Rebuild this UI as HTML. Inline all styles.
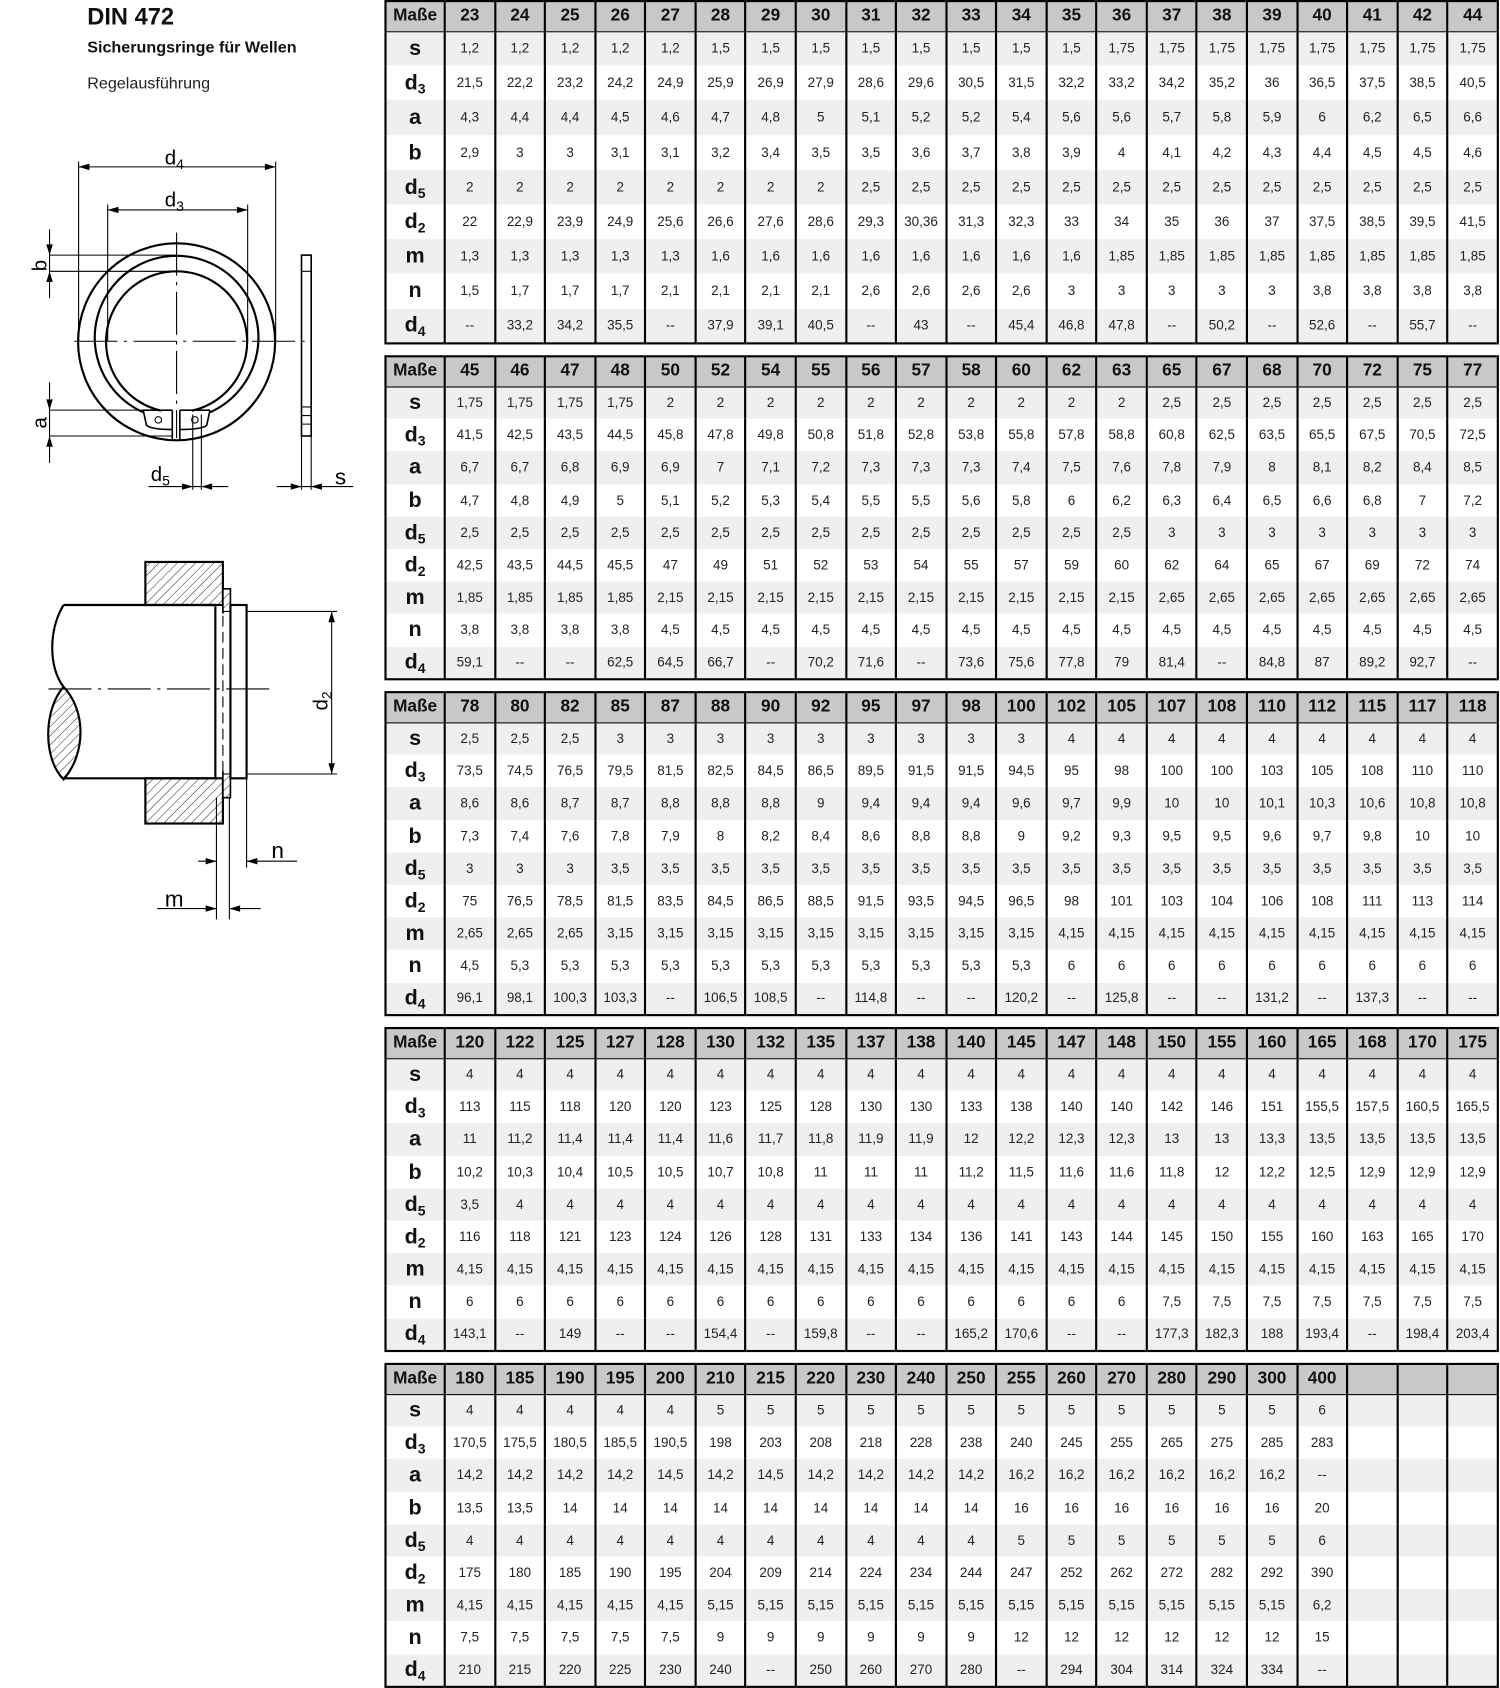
<!DOCTYPE html>
<html><head><meta charset="utf-8"><style>
html,body{margin:0;padding:0;background:#fff;}
body{width:1500px;height:1688px;overflow:hidden;position:relative;}
#w{position:absolute;left:0;top:0;width:1393px;height:1568px;transform:scale(1.0768,1.0765);transform-origin:0 0;font-family:"Liberation Sans",sans-serif;}
table{position:absolute;left:357px;width:1035px;height:300px;border-collapse:collapse;table-layout:fixed;border:2px solid #000;}
tr{height:30.2px;}
table.t1{height:318px;}
table.t1 tr{height:32.2px;}
tr.h, table.t1 tr.h{height:28px;}
td{border-left:2px solid #000;border-right:2px solid #000;text-align:center;font-size:12.5px;line-height:14px;color:#222;padding:0;white-space:nowrap;overflow:hidden;}
td:first-child{width:53px;font-weight:bold;font-size:20px;color:#111;}
td:first-child sub{font-size:13px;vertical-align:-4px;line-height:0;}
tr.h td{background:#c8c8c8;font-weight:bold;font-size:16px;border-bottom:1px solid #000;color:#111;}
tr.h td:first-child{font-size:16px;}
tr.g td{background:#efefef;}
</style></head><body><div id="w">
<svg width="357" height="1568" style="position:absolute;left:0;top:0" font-family="Liberation Sans,sans-serif">
<text x="81" y="23" font-size="22" font-weight="bold" fill="#111">DIN 472</text>
<text x="81" y="49" font-size="15" font-weight="bold" fill="#111">Sicherungsringe für Wellen</text>
<text x="81" y="82" font-size="15" fill="#222">Regelausführung</text>
<g stroke="#000" fill="none" stroke-width="2">
<circle cx="164" cy="317.5" r="91.5"/>
<path d="M133,383 A76 76 0 1 1 195,383"/>
<path d="M150,381.5 A65.5 65.5 0 1 1 178,381.5"/>
<path d="M133,381 H160 M133,381 L136,395 Q140,399 160,399 M160,381 V408" stroke-width="1.5"/>
<path d="M195,381 H167 M195,381 L192,395 Q188,399 167,399 M167,381 V408" stroke-width="1.5"/>
</g>
<g stroke="#000" fill="none" stroke-width="1">
<circle cx="147" cy="390" r="3"/><circle cx="181" cy="390" r="3"/>
<path d="M69,317 H286" stroke-dasharray="40,6,3,6"/>
<path d="M164,216 V407" stroke-dasharray="40,6,3,6"/>
<path d="M73,150 V317 M256,150 V317 M73,155 H256 M100,190 V317 M230,190 V317 M100,195 H230"/>
<path d="M46,237 H164 M46,252 H164 M46,213 V277 M46,381 H140 M46,405 H160 M46,355 V430"/>
<path d="M179,385 V455 M187,385 V455 M138,452 H212 M280,405 V455 M289,405 V455 M257,452 H328"/>
<rect x="280" y="237" width="9" height="168" stroke-width="1.5"/>
<path d="M280,252 H289 M280,378 H289 M280,386 H289 M280,394 H289"/>
</g>
<g fill="#000">
<path d="M73,155 l10,-3 v6z M256,155 l-10,-3 v6z M100,195 l10,-3 v6z M230,195 l-10,-3 v6z"/>
<path d="M46,237 l-3,-10 h6z M46,252 l-3,10 h6z M46,381 l-3,-10 h6z M46,405 l-3,10 h6z"/>
<path d="M179,452 l-10,-3 v6z M187,452 l10,-3 v6z M280,452 l-10,-3 v6z M289,452 l10,-3 v6z"/>
</g>
<text x="153" y="153" font-size="19">d<tspan font-size="13" dy="4">4</tspan></text>
<text x="153" y="192" font-size="19">d<tspan font-size="13" dy="4">3</tspan></text>
<text x="140" y="447" font-size="19">d<tspan font-size="13" dy="4">5</tspan></text>
<text x="311" y="450" font-size="21">s</text>
<text transform="translate(43,252) rotate(-90)" font-size="19">b</text>
<text transform="translate(43,398) rotate(-90)" font-size="19">a</text>
<defs><pattern id="h" width="6" height="6" patternUnits="userSpaceOnUse" patternTransform="rotate(45)"><line x1="0" y1="0" x2="0" y2="6" stroke="#000" stroke-width="0.8"/></pattern></defs>
<g stroke="#000" stroke-width="2" fill="none">
<rect x="135" y="522" width="72" height="40" fill="url(#h)"/>
<rect x="135" y="723" width="72" height="42" fill="url(#h)"/>
<path d="M59,562 H200 M59,723 H200"/>
<path d="M59,562 C45,585 45,620 59,638"/>
<path d="M59,638 C40,660 40,705 59,724 C80,700 80,660 59,638 Z" fill="url(#h)"/>
<rect x="207" y="547" width="7" height="194" fill="#fff" stroke-width="1.5"/>
<rect x="207" y="547" width="7" height="21" fill="url(#h)" stroke-width="1"/>
<rect x="207" y="719" width="7" height="22" fill="url(#h)" stroke-width="1"/>
<path d="M200,562 V723"/>
<rect x="214" y="562" width="15" height="161"/>
</g>
<g stroke="#000" stroke-width="1" fill="none">
<path d="M207,570 V716" stroke="#fff" stroke-width="2"/>
<path d="M207,572 V716" stroke-dasharray="10,5"/>
<path d="M45,640 H250" stroke-dasharray="40,6,3,6"/>
<path d="M229,568 H313 M229,719 H313 M308,568 V719"/>
<path d="M201,741 V854 M213,741 V854 M229,723 V806 M184,800 H201 M229,800 H276 M146,844 H201 M213,844 H242"/>
</g>
<g fill="#000"><path d="M308,568 l-3,10 h6z M308,719 l-3,-10 h6z M201,800 l-10,-3 v6z M229,800 l10,-3 v6z M201,844 l-10,-3 v6z M213,844 l10,-3 v6z"/></g>
<text transform="translate(304,660) rotate(-90)" font-size="19">d<tspan font-size="13" dy="4">2</tspan></text>
<text x="252" y="797" font-size="21">n</text>
<text x="153" y="842" font-size="21">m</text>
</svg>

<table class="t1" style="top:0">
<tr class="h"><td>Maße</td><td>23</td><td>24</td><td>25</td><td>26</td><td>27</td><td>28</td><td>29</td><td>30</td><td>31</td><td>32</td><td>33</td><td>34</td><td>35</td><td>36</td><td>37</td><td>38</td><td>39</td><td>40</td><td>41</td><td>42</td><td>44</td></tr>
<tr class="g"><td>s</td><td>1,2</td><td>1,2</td><td>1,2</td><td>1,2</td><td>1,2</td><td>1,5</td><td>1,5</td><td>1,5</td><td>1,5</td><td>1,5</td><td>1,5</td><td>1,5</td><td>1,5</td><td>1,75</td><td>1,75</td><td>1,75</td><td>1,75</td><td>1,75</td><td>1,75</td><td>1,75</td><td>1,75</td></tr>
<tr><td>d<sub>3</sub></td><td>21,5</td><td>22,2</td><td>23,2</td><td>24,2</td><td>24,9</td><td>25,9</td><td>26,9</td><td>27,9</td><td>28,6</td><td>29,6</td><td>30,5</td><td>31,5</td><td>32,2</td><td>33,2</td><td>34,2</td><td>35,2</td><td>36</td><td>36,5</td><td>37,5</td><td>38,5</td><td>40,5</td></tr>
<tr class="g"><td>a</td><td>4,3</td><td>4,4</td><td>4,4</td><td>4,5</td><td>4,6</td><td>4,7</td><td>4,8</td><td>5</td><td>5,1</td><td>5,2</td><td>5,2</td><td>5,4</td><td>5,6</td><td>5,6</td><td>5,7</td><td>5,8</td><td>5,9</td><td>6</td><td>6,2</td><td>6,5</td><td>6,6</td></tr>
<tr><td>b</td><td>2,9</td><td>3</td><td>3</td><td>3,1</td><td>3,1</td><td>3,2</td><td>3,4</td><td>3,5</td><td>3,5</td><td>3,6</td><td>3,7</td><td>3,8</td><td>3,9</td><td>4</td><td>4,1</td><td>4,2</td><td>4,3</td><td>4,4</td><td>4,5</td><td>4,5</td><td>4,6</td></tr>
<tr class="g"><td>d<sub>5</sub></td><td>2</td><td>2</td><td>2</td><td>2</td><td>2</td><td>2</td><td>2</td><td>2</td><td>2,5</td><td>2,5</td><td>2,5</td><td>2,5</td><td>2,5</td><td>2,5</td><td>2,5</td><td>2,5</td><td>2,5</td><td>2,5</td><td>2,5</td><td>2,5</td><td>2,5</td></tr>
<tr><td>d<sub>2</sub></td><td>22</td><td>22,9</td><td>23,9</td><td>24,9</td><td>25,6</td><td>26,6</td><td>27,6</td><td>28,6</td><td>29,3</td><td>30,36</td><td>31,3</td><td>32,3</td><td>33</td><td>34</td><td>35</td><td>36</td><td>37</td><td>37,5</td><td>38,5</td><td>39,5</td><td>41,5</td></tr>
<tr class="g"><td>m</td><td>1,3</td><td>1,3</td><td>1,3</td><td>1,3</td><td>1,3</td><td>1,6</td><td>1,6</td><td>1,6</td><td>1,6</td><td>1,6</td><td>1,6</td><td>1,6</td><td>1,6</td><td>1,85</td><td>1,85</td><td>1,85</td><td>1,85</td><td>1,85</td><td>1,85</td><td>1,85</td><td>1,85</td></tr>
<tr><td>n</td><td>1,5</td><td>1,7</td><td>1,7</td><td>1,7</td><td>2,1</td><td>2,1</td><td>2,1</td><td>2,1</td><td>2,6</td><td>2,6</td><td>2,6</td><td>2,6</td><td>3</td><td>3</td><td>3</td><td>3</td><td>3</td><td>3,8</td><td>3,8</td><td>3,8</td><td>3,8</td></tr>
<tr class="g"><td>d<sub>4</sub></td><td>--</td><td>33,2</td><td>34,2</td><td>35,5</td><td>--</td><td>37,9</td><td>39,1</td><td>40,5</td><td>--</td><td>43</td><td>--</td><td>45,4</td><td>46,8</td><td>47,8</td><td>--</td><td>50,2</td><td>--</td><td>52,6</td><td>--</td><td>55,7</td><td>--</td></tr>
</table>

<table style="top:330px">
<tr class="h"><td>Maße</td><td>45</td><td>46</td><td>47</td><td>48</td><td>50</td><td>52</td><td>54</td><td>55</td><td>56</td><td>57</td><td>58</td><td>60</td><td>62</td><td>63</td><td>65</td><td>67</td><td>68</td><td>70</td><td>72</td><td>75</td><td>77</td></tr>
<tr class="g"><td>s</td><td>1,75</td><td>1,75</td><td>1,75</td><td>1,75</td><td>2</td><td>2</td><td>2</td><td>2</td><td>2</td><td>2</td><td>2</td><td>2</td><td>2</td><td>2</td><td>2,5</td><td>2,5</td><td>2,5</td><td>2,5</td><td>2,5</td><td>2,5</td><td>2,5</td></tr>
<tr><td>d<sub>3</sub></td><td>41,5</td><td>42,5</td><td>43,5</td><td>44,5</td><td>45,8</td><td>47,8</td><td>49,8</td><td>50,8</td><td>51,8</td><td>52,8</td><td>53,8</td><td>55,8</td><td>57,8</td><td>58,8</td><td>60,8</td><td>62,5</td><td>63,5</td><td>65,5</td><td>67,5</td><td>70,5</td><td>72,5</td></tr>
<tr class="g"><td>a</td><td>6,7</td><td>6,7</td><td>6,8</td><td>6,9</td><td>6,9</td><td>7</td><td>7,1</td><td>7,2</td><td>7,3</td><td>7,3</td><td>7,3</td><td>7,4</td><td>7,5</td><td>7,6</td><td>7,8</td><td>7,9</td><td>8</td><td>8,1</td><td>8,2</td><td>8,4</td><td>8,5</td></tr>
<tr><td>b</td><td>4,7</td><td>4,8</td><td>4,9</td><td>5</td><td>5,1</td><td>5,2</td><td>5,3</td><td>5,4</td><td>5,5</td><td>5,5</td><td>5,6</td><td>5,8</td><td>6</td><td>6,2</td><td>6,3</td><td>6,4</td><td>6,5</td><td>6,6</td><td>6,8</td><td>7</td><td>7,2</td></tr>
<tr class="g"><td>d<sub>5</sub></td><td>2,5</td><td>2,5</td><td>2,5</td><td>2,5</td><td>2,5</td><td>2,5</td><td>2,5</td><td>2,5</td><td>2,5</td><td>2,5</td><td>2,5</td><td>2,5</td><td>2,5</td><td>2,5</td><td>3</td><td>3</td><td>3</td><td>3</td><td>3</td><td>3</td><td>3</td></tr>
<tr><td>d<sub>2</sub></td><td>42,5</td><td>43,5</td><td>44,5</td><td>45,5</td><td>47</td><td>49</td><td>51</td><td>52</td><td>53</td><td>54</td><td>55</td><td>57</td><td>59</td><td>60</td><td>62</td><td>64</td><td>65</td><td>67</td><td>69</td><td>72</td><td>74</td></tr>
<tr class="g"><td>m</td><td>1,85</td><td>1,85</td><td>1,85</td><td>1,85</td><td>2,15</td><td>2,15</td><td>2,15</td><td>2,15</td><td>2,15</td><td>2,15</td><td>2,15</td><td>2,15</td><td>2,15</td><td>2,15</td><td>2,65</td><td>2,65</td><td>2,65</td><td>2,65</td><td>2,65</td><td>2,65</td><td>2,65</td></tr>
<tr><td>n</td><td>3,8</td><td>3,8</td><td>3,8</td><td>3,8</td><td>4,5</td><td>4,5</td><td>4,5</td><td>4,5</td><td>4,5</td><td>4,5</td><td>4,5</td><td>4,5</td><td>4,5</td><td>4,5</td><td>4,5</td><td>4,5</td><td>4,5</td><td>4,5</td><td>4,5</td><td>4,5</td><td>4,5</td></tr>
<tr class="g"><td>d<sub>4</sub></td><td>59,1</td><td>--</td><td>--</td><td>62,5</td><td>64,5</td><td>66,7</td><td>--</td><td>70,2</td><td>71,6</td><td>--</td><td>73,6</td><td>75,6</td><td>77,8</td><td>79</td><td>81,4</td><td>--</td><td>84,8</td><td>87</td><td>89,2</td><td>92,7</td><td>--</td></tr>
</table>

<table style="top:642px">
<tr class="h"><td>Maße</td><td>78</td><td>80</td><td>82</td><td>85</td><td>87</td><td>88</td><td>90</td><td>92</td><td>95</td><td>97</td><td>98</td><td>100</td><td>102</td><td>105</td><td>107</td><td>108</td><td>110</td><td>112</td><td>115</td><td>117</td><td>118</td></tr>
<tr class="g"><td>s</td><td>2,5</td><td>2,5</td><td>2,5</td><td>3</td><td>3</td><td>3</td><td>3</td><td>3</td><td>3</td><td>3</td><td>3</td><td>3</td><td>4</td><td>4</td><td>4</td><td>4</td><td>4</td><td>4</td><td>4</td><td>4</td><td>4</td></tr>
<tr><td>d<sub>3</sub></td><td>73,5</td><td>74,5</td><td>76,5</td><td>79,5</td><td>81,5</td><td>82,5</td><td>84,5</td><td>86,5</td><td>89,5</td><td>91,5</td><td>91,5</td><td>94,5</td><td>95</td><td>98</td><td>100</td><td>100</td><td>103</td><td>105</td><td>108</td><td>110</td><td>110</td></tr>
<tr class="g"><td>a</td><td>8,6</td><td>8,6</td><td>8,7</td><td>8,7</td><td>8,8</td><td>8,8</td><td>8,8</td><td>9</td><td>9,4</td><td>9,4</td><td>9,4</td><td>9,6</td><td>9,7</td><td>9,9</td><td>10</td><td>10</td><td>10,1</td><td>10,3</td><td>10,6</td><td>10,8</td><td>10,8</td></tr>
<tr><td>b</td><td>7,3</td><td>7,4</td><td>7,6</td><td>7,8</td><td>7,9</td><td>8</td><td>8,2</td><td>8,4</td><td>8,6</td><td>8,8</td><td>8,8</td><td>9</td><td>9,2</td><td>9,3</td><td>9,5</td><td>9,5</td><td>9,6</td><td>9,7</td><td>9,8</td><td>10</td><td>10</td></tr>
<tr class="g"><td>d<sub>5</sub></td><td>3</td><td>3</td><td>3</td><td>3,5</td><td>3,5</td><td>3,5</td><td>3,5</td><td>3,5</td><td>3,5</td><td>3,5</td><td>3,5</td><td>3,5</td><td>3,5</td><td>3,5</td><td>3,5</td><td>3,5</td><td>3,5</td><td>3,5</td><td>3,5</td><td>3,5</td><td>3,5</td></tr>
<tr><td>d<sub>2</sub></td><td>75</td><td>76,5</td><td>78,5</td><td>81,5</td><td>83,5</td><td>84,5</td><td>86,5</td><td>88,5</td><td>91,5</td><td>93,5</td><td>94,5</td><td>96,5</td><td>98</td><td>101</td><td>103</td><td>104</td><td>106</td><td>108</td><td>111</td><td>113</td><td>114</td></tr>
<tr class="g"><td>m</td><td>2,65</td><td>2,65</td><td>2,65</td><td>3,15</td><td>3,15</td><td>3,15</td><td>3,15</td><td>3,15</td><td>3,15</td><td>3,15</td><td>3,15</td><td>3,15</td><td>4,15</td><td>4,15</td><td>4,15</td><td>4,15</td><td>4,15</td><td>4,15</td><td>4,15</td><td>4,15</td><td>4,15</td></tr>
<tr><td>n</td><td>4,5</td><td>5,3</td><td>5,3</td><td>5,3</td><td>5,3</td><td>5,3</td><td>5,3</td><td>5,3</td><td>5,3</td><td>5,3</td><td>5,3</td><td>5,3</td><td>6</td><td>6</td><td>6</td><td>6</td><td>6</td><td>6</td><td>6</td><td>6</td><td>6</td></tr>
<tr class="g"><td>d<sub>4</sub></td><td>96,1</td><td>98,1</td><td>100,3</td><td>103,3</td><td>--</td><td>106,5</td><td>108,5</td><td>--</td><td>114,8</td><td>--</td><td>--</td><td>120,2</td><td>--</td><td>125,8</td><td>--</td><td>--</td><td>131,2</td><td>--</td><td>137,3</td><td>--</td><td>--</td></tr>
</table>

<table style="top:954px">
<tr class="h"><td>Maße</td><td>120</td><td>122</td><td>125</td><td>127</td><td>128</td><td>130</td><td>132</td><td>135</td><td>137</td><td>138</td><td>140</td><td>145</td><td>147</td><td>148</td><td>150</td><td>155</td><td>160</td><td>165</td><td>168</td><td>170</td><td>175</td></tr>
<tr class="g"><td>s</td><td>4</td><td>4</td><td>4</td><td>4</td><td>4</td><td>4</td><td>4</td><td>4</td><td>4</td><td>4</td><td>4</td><td>4</td><td>4</td><td>4</td><td>4</td><td>4</td><td>4</td><td>4</td><td>4</td><td>4</td><td>4</td></tr>
<tr><td>d<sub>3</sub></td><td>113</td><td>115</td><td>118</td><td>120</td><td>120</td><td>123</td><td>125</td><td>128</td><td>130</td><td>130</td><td>133</td><td>138</td><td>140</td><td>140</td><td>142</td><td>146</td><td>151</td><td>155,5</td><td>157,5</td><td>160,5</td><td>165,5</td></tr>
<tr class="g"><td>a</td><td>11</td><td>11,2</td><td>11,4</td><td>11,4</td><td>11,4</td><td>11,6</td><td>11,7</td><td>11,8</td><td>11,9</td><td>11,9</td><td>12</td><td>12,2</td><td>12,3</td><td>12,3</td><td>13</td><td>13</td><td>13,3</td><td>13,5</td><td>13,5</td><td>13,5</td><td>13,5</td></tr>
<tr><td>b</td><td>10,2</td><td>10,3</td><td>10,4</td><td>10,5</td><td>10,5</td><td>10,7</td><td>10,8</td><td>11</td><td>11</td><td>11</td><td>11,2</td><td>11,5</td><td>11,6</td><td>11,6</td><td>11,8</td><td>12</td><td>12,2</td><td>12,5</td><td>12,9</td><td>12,9</td><td>12,9</td></tr>
<tr class="g"><td>d<sub>5</sub></td><td>3,5</td><td>4</td><td>4</td><td>4</td><td>4</td><td>4</td><td>4</td><td>4</td><td>4</td><td>4</td><td>4</td><td>4</td><td>4</td><td>4</td><td>4</td><td>4</td><td>4</td><td>4</td><td>4</td><td>4</td><td>4</td></tr>
<tr><td>d<sub>2</sub></td><td>116</td><td>118</td><td>121</td><td>123</td><td>124</td><td>126</td><td>128</td><td>131</td><td>133</td><td>134</td><td>136</td><td>141</td><td>143</td><td>144</td><td>145</td><td>150</td><td>155</td><td>160</td><td>163</td><td>165</td><td>170</td></tr>
<tr class="g"><td>m</td><td>4,15</td><td>4,15</td><td>4,15</td><td>4,15</td><td>4,15</td><td>4,15</td><td>4,15</td><td>4,15</td><td>4,15</td><td>4,15</td><td>4,15</td><td>4,15</td><td>4,15</td><td>4,15</td><td>4,15</td><td>4,15</td><td>4,15</td><td>4,15</td><td>4,15</td><td>4,15</td><td>4,15</td></tr>
<tr><td>n</td><td>6</td><td>6</td><td>6</td><td>6</td><td>6</td><td>6</td><td>6</td><td>6</td><td>6</td><td>6</td><td>6</td><td>6</td><td>6</td><td>6</td><td>7,5</td><td>7,5</td><td>7,5</td><td>7,5</td><td>7,5</td><td>7,5</td><td>7,5</td></tr>
<tr class="g"><td>d<sub>4</sub></td><td>143,1</td><td>--</td><td>149</td><td>--</td><td>--</td><td>154,4</td><td>--</td><td>159,8</td><td>--</td><td>--</td><td>165,2</td><td>170,6</td><td>--</td><td>--</td><td>177,3</td><td>182,3</td><td>188</td><td>193,4</td><td>--</td><td>198,4</td><td>203,4</td></tr>
</table>

<table style="top:1266px">
<tr class="h"><td>Maße</td><td>180</td><td>185</td><td>190</td><td>195</td><td>200</td><td>210</td><td>215</td><td>220</td><td>230</td><td>240</td><td>250</td><td>255</td><td>260</td><td>270</td><td>280</td><td>290</td><td>300</td><td>400</td><td></td><td></td><td></td></tr>
<tr class="g"><td>s</td><td>4</td><td>4</td><td>4</td><td>4</td><td>4</td><td>5</td><td>5</td><td>5</td><td>5</td><td>5</td><td>5</td><td>5</td><td>5</td><td>5</td><td>5</td><td>5</td><td>5</td><td>6</td><td></td><td></td><td></td></tr>
<tr><td>d<sub>3</sub></td><td>170,5</td><td>175,5</td><td>180,5</td><td>185,5</td><td>190,5</td><td>198</td><td>203</td><td>208</td><td>218</td><td>228</td><td>238</td><td>240</td><td>245</td><td>255</td><td>265</td><td>275</td><td>285</td><td>283</td><td></td><td></td><td></td></tr>
<tr class="g"><td>a</td><td>14,2</td><td>14,2</td><td>14,2</td><td>14,2</td><td>14,5</td><td>14,2</td><td>14,5</td><td>14,2</td><td>14,2</td><td>14,2</td><td>14,2</td><td>16,2</td><td>16,2</td><td>16,2</td><td>16,2</td><td>16,2</td><td>16,2</td><td>--</td><td></td><td></td><td></td></tr>
<tr><td>b</td><td>13,5</td><td>13,5</td><td>14</td><td>14</td><td>14</td><td>14</td><td>14</td><td>14</td><td>14</td><td>14</td><td>14</td><td>16</td><td>16</td><td>16</td><td>16</td><td>16</td><td>16</td><td>20</td><td></td><td></td><td></td></tr>
<tr class="g"><td>d<sub>5</sub></td><td>4</td><td>4</td><td>4</td><td>4</td><td>4</td><td>4</td><td>4</td><td>4</td><td>4</td><td>4</td><td>4</td><td>5</td><td>5</td><td>5</td><td>5</td><td>5</td><td>5</td><td>6</td><td></td><td></td><td></td></tr>
<tr><td>d<sub>2</sub></td><td>175</td><td>180</td><td>185</td><td>190</td><td>195</td><td>204</td><td>209</td><td>214</td><td>224</td><td>234</td><td>244</td><td>247</td><td>252</td><td>262</td><td>272</td><td>282</td><td>292</td><td>390</td><td></td><td></td><td></td></tr>
<tr class="g"><td>m</td><td>4,15</td><td>4,15</td><td>4,15</td><td>4,15</td><td>4,15</td><td>5,15</td><td>5,15</td><td>5,15</td><td>5,15</td><td>5,15</td><td>5,15</td><td>5,15</td><td>5,15</td><td>5,15</td><td>5,15</td><td>5,15</td><td>5,15</td><td>6,2</td><td></td><td></td><td></td></tr>
<tr><td>n</td><td>7,5</td><td>7,5</td><td>7,5</td><td>7,5</td><td>7,5</td><td>9</td><td>9</td><td>9</td><td>9</td><td>9</td><td>9</td><td>12</td><td>12</td><td>12</td><td>12</td><td>12</td><td>12</td><td>15</td><td></td><td></td><td></td></tr>
<tr class="g"><td>d<sub>4</sub></td><td>210</td><td>215</td><td>220</td><td>225</td><td>230</td><td>240</td><td>--</td><td>250</td><td>260</td><td>270</td><td>280</td><td>--</td><td>294</td><td>304</td><td>314</td><td>324</td><td>334</td><td>--</td><td></td><td></td><td></td></tr>
</table>
</div></body></html>
